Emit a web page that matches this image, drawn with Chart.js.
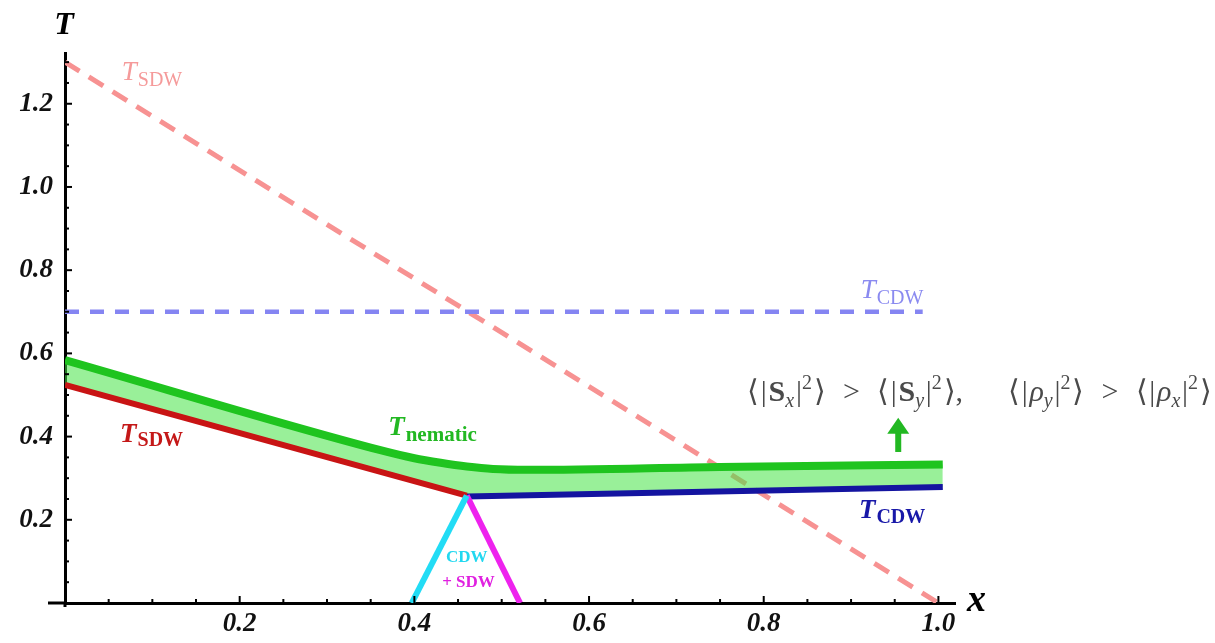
<!DOCTYPE html>
<html>
<head>
<meta charset="utf-8">
<script src="https://cdn.jsdelivr.net/npm/chart.js@4.4.1/dist/chart.umd.min.js"></script>
<style>
  html, body { margin: 0; padding: 0; background: #ffffff; }
  #wrap { width: 1215px; height: 643px; position: relative; }
</style>
</head>
<body>
<div id="wrap"><canvas id="phase" width="1215" height="643"></canvas></div>
<script>
// Axis ticks (major labels)
const xTickValues = [0.2, 0.4, 0.6, 0.8, 1.0];
const yTickValues = [0.2, 0.4, 0.6, 0.8, 1.0, 1.2];

// Mean-field transition lines (dashed)
const sdwMeanFieldX = [0, 1.0];
const sdwMeanFieldT = [1.3, 0];
const cdwMeanFieldX = [0, 0.982];
const cdwMeanFieldT = [0.7, 0.7];

// Nematic transition (upper edge of the band)
const nematicX = [0, 0.36, 0.40, 0.43, 0.46, 0.49, 0.53, 0.75, 1.005];
const nematicT = [0.584, 0.368, 0.348, 0.337, 0.328, 0.322, 0.320, 0.327, 0.333];

// Density-wave ordering lines (lower edge of the band)
const sdwX = [0, 0.46];
const sdwT = [0.524, 0.258];
const cdwX = [0.46, 1.005];
const cdwT = [0.256, 0.279];

// Boundaries of the coexistence (CDW + SDW) region
const cdwEdgeX = [0.397, 0.46];
const cdwEdgeT = [0, 0.258];
const sdwEdgeX = [0.46, 0.521];
const sdwEdgeT = [0.258, 0];

const pts = (xs, ys) => xs.map((x, i) => ({ x: x, y: ys[i] }));
const lowerEdge = pts(sdwX, sdwT).concat(pts(cdwX, cdwT).slice(1));

const SERIF = '"Liberation Serif", "Times New Roman", serif';

// Text labels anchored in data coordinates
const labels = [
  { main: 'T', sub: 'SDW', x: 0.065, y: 1.257, color: '#f59a9a', bold: false, size: 27, subSize: 20, dy: 6 },
  { main: 'T', sub: 'CDW', x: 0.911, y: 0.733, color: '#8a8af0', bold: false, size: 27, subSize: 20, dy: 6 },
  { main: 'T', sub: 'nematic', x: 0.37, y: 0.404, color: '#22b822', bold: true, size: 27, subSize: 21, dy: 6 },
  { main: 'T', sub: 'SDW', x: 0.063, y: 0.387, color: '#c41818', bold: true, size: 27, subSize: 20, dy: 4 },
  { main: 'T', sub: 'CDW', x: 0.909, y: 0.204, color: '#1818a8', bold: true, size: 27, subSize: 20, dy: 5 }
];
const smallLabels = [
  { text: 'CDW', x: 0.460, y: 0.099, color: '#22d8f0', size: 17 },
  { text: '+ SDW', x: 0.462, y: 0.038, color: '#e020e0', size: 17 }
];

// Order-parameter inequality: [text, kind]; 'gap' entries carry a spacing weight
const inequality = [
  ['\u27E8', ''], [0.1, 'gap'], ['|', ''], [0.1, 'gap'], ['S', 'b'], ['x', 'sub'], [0.1, 'gap'], ['|', ''], ['2', 'sup'], [0.1, 'gap'], ['\u27E9', ''],
  [1, 'gap'], ['>', ''], [1, 'gap'],
  ['\u27E8', ''], [0.1, 'gap'], ['|', ''], [0.1, 'gap'], ['S', 'b'], ['y', 'sub'], [0.1, 'gap'], ['|', ''], ['2', 'sup'], [0.1, 'gap'], ['\u27E9', ''],
  [',', ''], [2.6, 'gap'],
  ['\u27E8', ''], [0.1, 'gap'], ['|', ''], [0.1, 'gap'], ['\u03C1', 'i'], ['y', 'sub'], [0.1, 'gap'], ['|', ''], ['2', 'sup'], [0.1, 'gap'], ['\u27E9', ''],
  [1, 'gap'], ['>', ''], [1, 'gap'],
  ['\u27E8', ''], [0.1, 'gap'], ['|', ''], [0.1, 'gap'], ['\u03C1', 'i'], ['x', 'sub'], [0.1, 'gap'], ['|', ''], ['2', 'sup'], [0.1, 'gap'], ['\u27E9', '']
];

const annotate = {
  id: 'annotate',
  afterDatasetsDraw(chart) {
    const ctx = chart.ctx;
    const xs = chart.scales.x, ys = chart.scales.y;
    const area = chart.chartArea;
    ctx.save();

    // axis stubs past the origin
    ctx.strokeStyle = '#000';
    ctx.lineWidth = 3;
    ctx.beginPath(); ctx.moveTo(area.left - 17, area.bottom); ctx.lineTo(area.left, area.bottom); ctx.stroke();
    ctx.beginPath(); ctx.moveTo(area.left, area.bottom); ctx.lineTo(area.left, area.bottom + 4); ctx.stroke();

    // inward tick marks
    ctx.lineWidth = 2;
    for (let i = 1; i <= 20; i++) {
      const px = xs.getPixelForValue(i * 0.05);
      const len = (i % 4 === 0) ? 7 : 4;
      ctx.beginPath(); ctx.moveTo(px, area.bottom); ctx.lineTo(px, area.bottom - len); ctx.stroke();
    }
    for (let i = 1; i <= 26; i++) {
      const py = ys.getPixelForValue(i * 0.05);
      const len = (i % 4 === 0) ? 7 : 4;
      ctx.beginPath(); ctx.moveTo(area.left, py); ctx.lineTo(area.left + len, py); ctx.stroke();
    }

    // axis names
    ctx.fillStyle = '#000';
    ctx.textBaseline = 'alphabetic';
    ctx.textAlign = 'center';
    ctx.font = 'italic bold 32px ' + SERIF;
    ctx.fillText('T', area.left - 1, area.top - 19);
    ctx.textAlign = 'left';
    ctx.font = 'italic bold 38px ' + SERIF;
    ctx.fillText('x', area.right + 12, area.bottom + 8);

    // curve labels with subscripts
    labels.forEach(l => {
      const px = xs.getPixelForValue(l.x), py = ys.getPixelForValue(l.y);
      ctx.fillStyle = l.color;
      ctx.font = 'italic ' + (l.bold ? 'bold ' : '') + l.size + 'px ' + SERIF;
      ctx.fillText(l.main, px, py);
      const w = ctx.measureText(l.main).width;
      ctx.font = (l.bold ? 'bold ' : '') + l.subSize + 'px ' + SERIF;
      ctx.fillText(l.sub, px + w + 1, py + l.dy);
    });
    ctx.textAlign = 'center';
    smallLabels.forEach(l => {
      ctx.fillStyle = l.color;
      ctx.font = 'bold ' + l.size + 'px ' + SERIF;
      ctx.fillText(l.text, xs.getPixelForValue(l.x), ys.getPixelForValue(l.y));
    });

    // arrow pointing into the nematic region
    const ax = xs.getPixelForValue(0.954);
    const aBase = ys.getPixelForValue(0.363);
    const aTip = ys.getPixelForValue(0.445);
    ctx.fillStyle = '#22b822';
    ctx.fillRect(ax - 3, aTip + 14, 6, aBase - aTip - 14);
    ctx.beginPath();
    ctx.moveTo(ax, aTip); ctx.lineTo(ax + 11, aTip + 16); ctx.lineTo(ax - 11, aTip + 16); ctx.closePath();
    ctx.fill();

    // order-parameter inequality, spread between two data x positions
    const F = 30;
    const fontFor = (kind) => {
      if (kind === 'b') return 'bold ' + F + 'px ' + SERIF;
      if (kind === 'i') return 'italic ' + F + 'px ' + SERIF;
      if (kind === 'sub') return 'italic ' + Math.round(F * 0.68) + 'px ' + SERIF;
      if (kind === 'sup') return Math.round(F * 0.68) + 'px ' + SERIF;
      return F + 'px ' + SERIF;
    };
    const x0 = xs.getPixelForValue(0.781);
    const x1 = xs.getPixelForValue(1.313);
    const my = ys.getPixelForValue(0.486);
    let textW = 0, gapW = 0;
    inequality.forEach(([t, k]) => {
      if (k === 'gap') { gapW += t; return; }
      ctx.font = fontFor(k);
      textW += ctx.measureText(t).width;
    });
    const unit = Math.max(0, (x1 - x0 - textW) / gapW);
    ctx.textAlign = 'left';
    ctx.fillStyle = '#4a4a4a';
    let mx = x0;
    inequality.forEach(([t, k]) => {
      if (k === 'gap') { mx += t * unit; return; }
      ctx.font = fontFor(k);
      const dy = k === 'sub' ? 6 : (k === 'sup' ? -12 : 0);
      ctx.fillText(t, mx, my + dy);
      mx += ctx.measureText(t).width;
    });

    ctx.restore();
  }
};

const line = (data, color, width, order, extra) => Object.assign({
  data: data,
  borderColor: color,
  borderWidth: width,
  pointRadius: 0,
  fill: false,
  tension: 0,
  order: order
}, extra || {});

new Chart(document.getElementById('phase'), {
  type: 'line',
  data: {
    datasets: [
      line(pts(sdwMeanFieldX, sdwMeanFieldT), '#f79292', 5, 10, { borderDash: [17, 11] }),
      line(pts(cdwMeanFieldX, cdwMeanFieldT), '#8585f2', 4.5, 9, { borderDash: [14, 11] }),
      line(lowerEdge, 'rgba(0,0,0,0)', 0, 8),
      line(pts(nematicX, nematicT), '#1fc41f', 8, 7, {
        fill: { target: 2 },
        backgroundColor: 'rgba(70,228,70,0.55)',
        cubicInterpolationMode: 'monotone'
      }),
      line(pts(sdwX, sdwT), '#c81414', 6, 5),
      line(pts(cdwX, cdwT), '#1414a0', 6, 5),
      line(pts(cdwEdgeX, cdwEdgeT), '#22dcf5', 6, 4),
      line(pts(sdwEdgeX, sdwEdgeT), '#ee22ee', 6, 4)
    ]
  },
  options: {
    responsive: false,
    animation: false,
    devicePixelRatio: 1,
    layout: { padding: { left: 0, top: 53, right: 260, bottom: 0 } },
    plugins: { legend: { display: false }, tooltip: { enabled: false } },
    scales: {
      x: {
        type: 'linear',
        min: 0,
        max: 1.019,
        afterFit: s => { s.height = 40; },
        afterBuildTicks: s => { s.ticks = xTickValues.map(v => ({ value: v })); },
        grid: { display: false, drawTicks: false },
        border: { display: true, color: '#000', width: 3 },
        ticks: {
          autoSkip: false,
          maxRotation: 0,
          padding: 5,
          color: '#111',
          font: { family: SERIF, style: 'italic', weight: 'bold', size: 27 },
          callback: v => v.toFixed(1)
        }
      },
      y: {
        type: 'linear',
        min: 0,
        max: 1.322,
        afterFit: s => { s.width = 65; },
        afterBuildTicks: s => { s.ticks = yTickValues.map(v => ({ value: v })); },
        grid: { display: false, drawTicks: false },
        border: { display: true, color: '#000', width: 3 },
        ticks: {
          autoSkip: false,
          padding: 12,
          color: '#111',
          font: { family: SERIF, style: 'italic', weight: 'bold', size: 27 },
          callback: v => v.toFixed(1)
        }
      }
    }
  },
  plugins: [annotate]
});
</script>
</body>
</html>
